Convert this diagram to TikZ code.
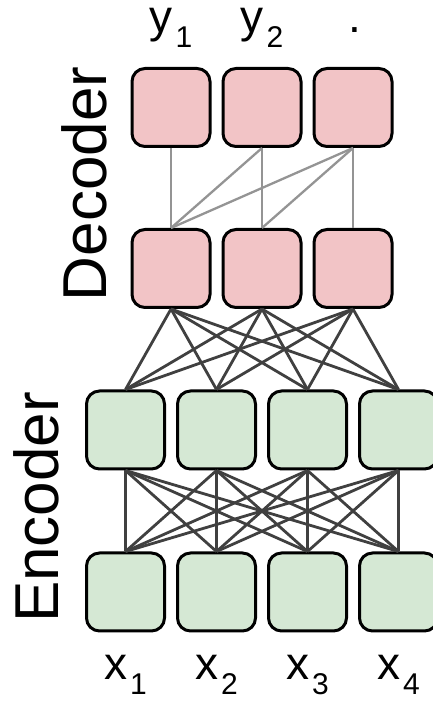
\documentclass[tikz,border=0pt]{standalone}
\usepackage{fontspec}
\setmainfont{Liberation Sans}
\usepackage{xcolor}
\definecolor{encfill}{HTML}{D5E8D4}
\definecolor{decfill}{HTML}{F2C4C6}
\newcommand{\tok}[2]{#1\hspace{3pt}\raisebox{-15pt}{\fontsize{30}{30}\selectfont #2}}
\tikzset{
  unit/.style={draw=black,line width=3pt,rounded corners=13pt,minimum width=78pt,minimum height=78pt,inner sep=0pt},
  encbox/.style={unit,fill=encfill},
  decbox/.style={unit,fill=decfill},
  enclink/.style={draw=black!75,line width=2.8pt},
  declink/.style={draw=black!42,line width=2.3pt},
  tokname/.style={anchor=base,inner sep=0pt,font=\fontsize{46}{46}\selectfont},
  partname/.style={anchor=base,rotate=90,inner sep=0pt,font=\fontsize{62}{62}\selectfont}
}
\begin{document}
\begin{tikzpicture}[x=1pt,y=1pt]
\useasboundingbox (0,0) rectangle (433,702);
% Boxes
\foreach \i in {1,...,4} {
  \node[encbox] (eb\i) at ({125.5+91*(\i-1)},110) {};
  \node[encbox] (et\i) at ({125.5+91*(\i-1)},272) {};
}
\foreach \i in {1,2,3} {
  \node[decbox] (db\i) at ({171+91*(\i-1)},433.5) {};
  \node[decbox] (dt\i) at ({171+91*(\i-1)},594.5) {};
}
% Encoder links
\foreach \i in {1,...,4} {\foreach \j in {1,...,4} {\draw[enclink] (et\i.south) -- (eb\j.north);}}
\foreach \i in {1,2,3} {\foreach \j in {1,...,4} {\draw[enclink] (db\i.south) -- (et\j.north);}}
% Decoder links (causal)
\foreach \i in {1,2,3} {\foreach \j in {1,...,\i} {\draw[declink] (dt\i.south) -- (db\j.north);}}
% Labels
\foreach \i in {1,...,4} {\node[tokname] (x\i) at ({125.5+91*(\i-1)},22) {\tok{x}{\i}};}
\node[tokname] (y1) at (171,669) {\tok{y}{1}};
\node[tokname] (y2) at (262,669) {\tok{y}{2}};
\node[tokname] (y3) at (355,669) {.};
\node[partname] (enc) at (58,194.5) {Encoder};
\node[partname] (dec) at (106,518) {Decoder};
\end{tikzpicture}
\end{document}
